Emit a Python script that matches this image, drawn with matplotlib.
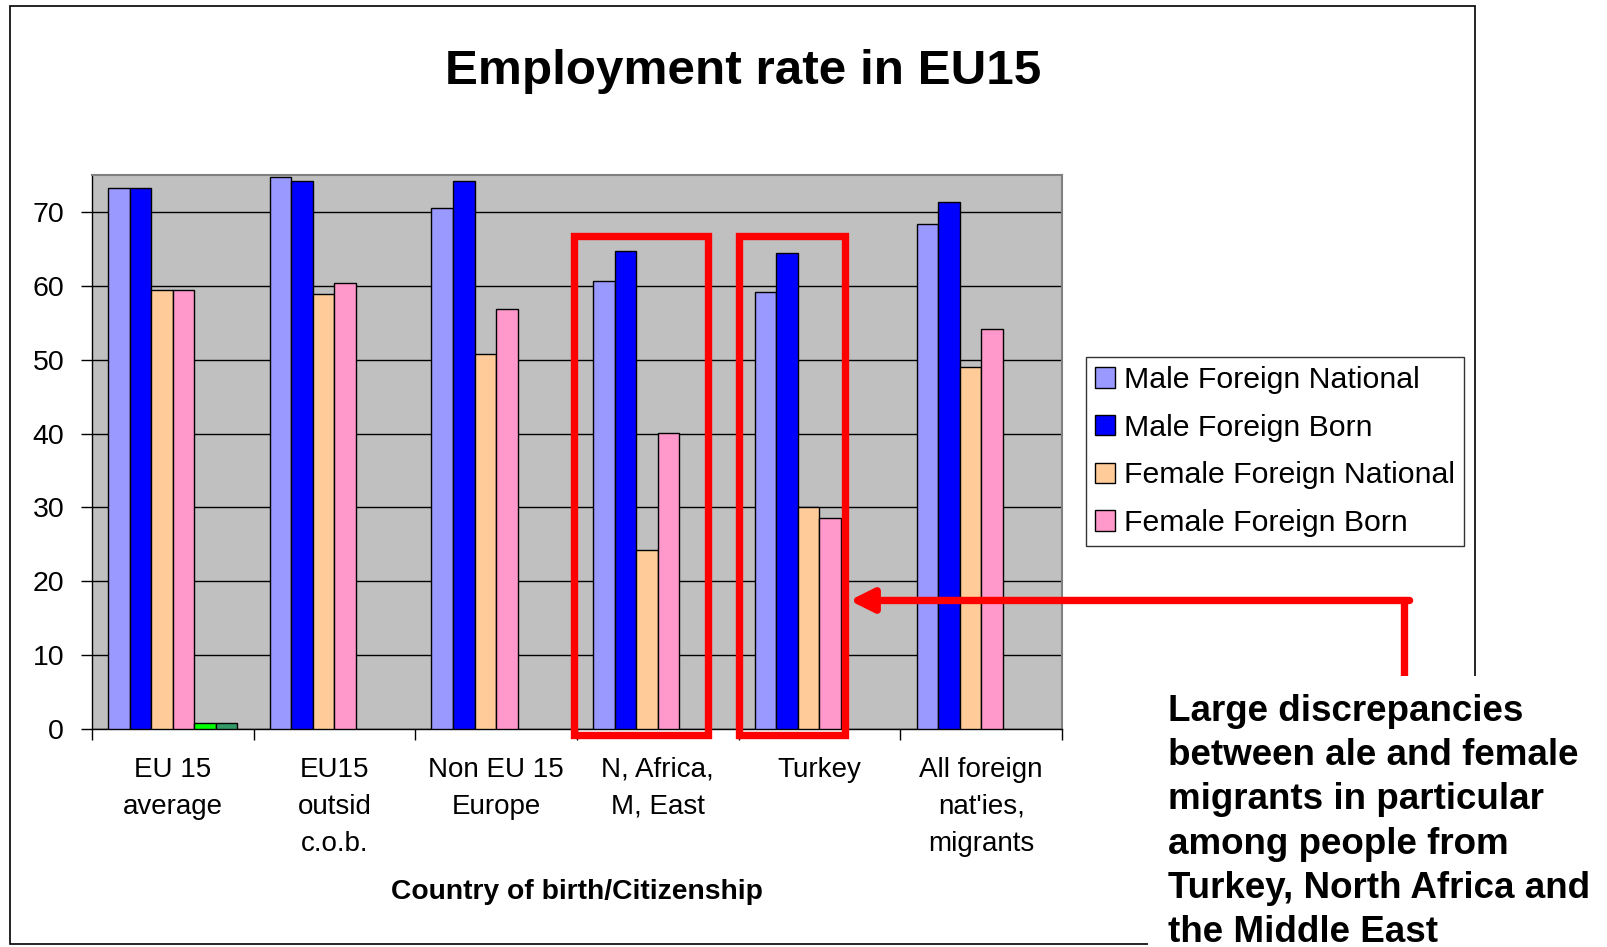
import numpy as np
import matplotlib.pyplot as plt
from matplotlib.patches import Rectangle, Patch

plt.rcParams['font.family'] = ['Liberation Sans', 'DejaVu Sans']

categories = ["EU 15\naverage", "EU15\noutsid\nc.o.b.", "Non EU 15\nEurope",
              "N, Africa,\nM, East", "Turkey", "All foreign\nnat'ies,\nmigrants"]
male_nat = [73.2, 74.7, 70.6, 60.7, 59.2, 68.3]
male_born = [73.2, 74.2, 74.2, 64.7, 64.4, 71.4]
female_nat = [59.4, 58.9, 50.7, 24.3, 30.1, 49.0]
female_born = [59.4, 60.4, 56.9, 40.1, 28.6, 54.2]
total_nat = [0.8, np.nan, np.nan, np.nan, np.nan, np.nan]
total_born = [0.8, np.nan, np.nan, np.nan, np.nan, np.nan]
series = [male_nat, male_born, female_nat, female_born, total_nat, total_born]
legend_names = ["Male Foreign National", "Male Foreign Born",
                "Female Foreign National", "Female Foreign Born"]
colors = ['#9999FF', '#0000FF', '#FFCC99', '#FF99CC', '#00FF00', '#339966']

W, H = 1608, 947
fig = plt.figure(figsize=(W / 100, H / 100), dpi=100)
ax = fig.add_axes([92 / W, 1 - 729 / H, (1062 - 92) / W, (729 - 175) / H])
ax.set_facecolor('#C0C0C0')

x = np.arange(len(categories))
w = 0.8 / 6
for i, vals in enumerate(series):
    ax.bar(x + (i - 2.5) * w, vals, w, color=colors[i], edgecolor='black', linewidth=1, zorder=3)

ax.set_xlim(-0.5, len(categories) - 0.5)
ax.set_ylim(0, 75)
ax.set_yticks(range(0, 71, 10))
ax.yaxis.grid(True, color='black', linewidth=1)
ax.set_axisbelow(True)
ax.set_xticks(x)
ax.set_xticklabels(categories, fontsize=20, linespacing=1.55)
ax.set_xticks(np.arange(-0.5, len(categories), 1), minor=True)
ax.tick_params(axis='x', which='major', length=0, pad=20)
ax.tick_params(axis='x', which='minor', length=8, width=1, direction='out')
ax.tick_params(axis='y', labelsize=20.5, length=8, width=1, pad=12)
for s in ['top', 'right']:
    ax.spines[s].set_color('#808080')
    ax.spines[s].set_linewidth(1.5)
for s in ['left', 'bottom']:
    ax.spines[s].set_color('black')
    ax.spines[s].set_linewidth(1)

fig.text(0.462, 1 - 72 / H, "Employment rate in EU15", fontsize=35.6, fontweight='bold',
         ha='center', va='center')
fig.text(577 / W, 1 - 892 / H, "Country of birth/Citizenship", fontsize=20.3, fontweight='bold',
         ha='center', va='center')

handles = [Patch(facecolor=colors[i], edgecolor='black', linewidth=1) for i in range(4)]
leg = fig.legend(handles, legend_names, loc='upper left', bbox_to_anchor=(1086 / W, 1 - 357 / H),
                 fontsize=21.8, frameon=True, fancybox=False, edgecolor='black',
                 handlelength=0.65, handleheight=0.65, handletextpad=0.3,
                 labelspacing=0.65, borderpad=0.3, borderaxespad=0)
leg.get_frame().set_linewidth(1)

# red highlight boxes
for x0, x1 in [(2.48, 3.31), (3.505, 4.16)]:
    ax.add_patch(Rectangle((x0, -0.8), x1 - x0, 67.5, fill=False, edgecolor='#FF0000',
                           linewidth=5.3, clip_on=False, zorder=6))

# arrow
ax.plot([7.618, 7.618], [7.2, 17.4], color='#FF0000', linewidth=5.3, clip_on=False,
        solid_capstyle='butt', zorder=6)
ax.annotate('', xy=(4.186, 17.4), xytext=(7.65, 17.4),
            arrowprops=dict(arrowstyle='-|>,head_length=1.4,head_width=0.7', color='#FF0000',
                            lw=5.3, shrinkA=0, shrinkB=0, mutation_scale=10),
            annotation_clip=False, zorder=6)

# chart frame
fig.patches.append(Rectangle((10 / W, 1 - 944 / H), (1475 - 10) / W, (944 - 6) / H,
                             transform=fig.transFigure, fill=False, edgecolor='black',
                             linewidth=1.2, zorder=1))
fig.patches.append(Rectangle((1148 / W, 0), 1, (947 - 676) / H, transform=fig.transFigure,
                             facecolor='white', edgecolor='none', zorder=2))

fig.text(1168 / W, 1 - 694 / H,
         "Large discrepancies\nbetween ale and female\nmigrants in particular\n"
         "among people from\nTurkey, North Africa and\nthe Middle East",
         fontsize=26.5, fontweight='bold', ha='left', va='top', linespacing=1.34, zorder=3)

fig.savefig('out.png', dpi=100)
